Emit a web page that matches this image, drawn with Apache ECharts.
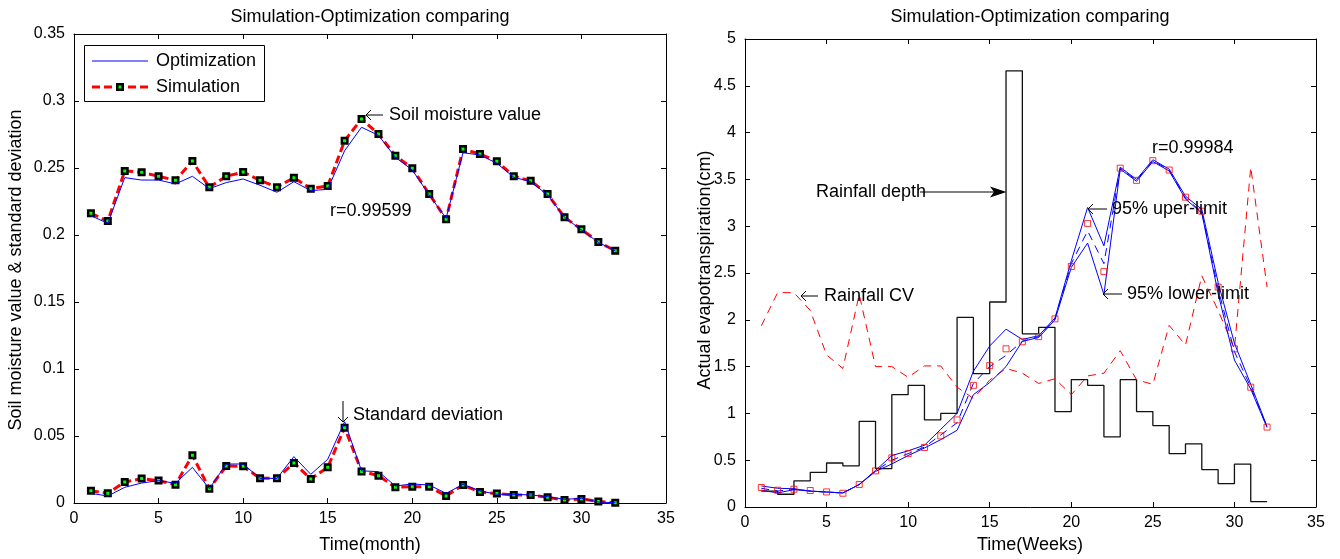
<!DOCTYPE html>
<html><head><meta charset="utf-8">
<script src="https://cdn.jsdelivr.net/npm/echarts/dist/echarts.min.js"></script>
<style>html,body{margin:0;padding:0;background:#fff}#c{width:1340px;height:559px}</style>
</head><body><div id="c"></div>
<script>
// ---------- data ----------
const months = [1,2,3,4,5,6,7,8,9,10,11,12,13,14,15,16,17,18,19,20,21,22,23,24,25,26,27,28,29,30,31,32];
const optMoisture = [0.2144,0.2087,0.2428,0.2410,0.2410,0.2381,0.2438,0.2346,0.2391,0.2418,0.2371,0.2319,0.2398,0.2331,0.2341,0.2629,0.2804,0.2744,0.2580,0.2485,0.2299,0.2125,0.2614,0.2597,0.2535,0.2431,0.2398,0.2299,0.2132,0.2038,0.1945,0.1883];
const simMoisture = [0.2162,0.2104,0.2478,0.2468,0.2438,0.2408,0.2552,0.2356,0.2438,0.2470,0.2408,0.2356,0.2428,0.2346,0.2366,0.2704,0.2866,0.2754,0.2592,0.2498,0.2306,0.2117,0.2642,0.2604,0.2550,0.2438,0.2405,0.2306,0.2132,0.2043,0.1948,0.1883];
const optStd = [0.0072,0.0052,0.0117,0.0149,0.0167,0.0147,0.0266,0.0107,0.0291,0.0291,0.0184,0.0184,0.0346,0.0214,0.0326,0.0607,0.0240,0.0234,0.0127,0.0142,0.0134,0.0072,0.0139,0.0090,0.0065,0.0065,0.0060,0.0047,0.0027,0.0035,0.0007,0.0002];
const simStd = [0.0092,0.0072,0.0157,0.0182,0.0167,0.0137,0.0356,0.0107,0.0276,0.0274,0.0184,0.0184,0.0299,0.0179,0.0266,0.0562,0.0236,0.0204,0.0117,0.0122,0.0122,0.0052,0.0134,0.0082,0.0070,0.0060,0.0060,0.0042,0.0022,0.0030,0.0012,0.0002];

const weeks = [1,2,3,4,5,6,7,8,9,10,11,12,13,14,15,16,17,18,19,20,21,22,23,24,25,26,27,28,29,30,31,32];
const rainfallDepth = [0.17,0.136,0.28,0.37,0.47,0.44,0.915,0.41,1.20,1.30,0.93,1.00,2.025,1.425,2.19,4.66,1.85,1.92,1.02,1.36,1.30,0.75,1.36,1.02,0.87,0.57,0.675,0.40,0.25,0.457,0.058,0.058];
const rainfallCV = [1.936,2.29,2.29,2.10,1.625,1.48,2.27,1.50,1.50,1.386,1.507,1.507,1.28,1.16,1.357,1.48,1.43,1.32,1.37,1.20,1.40,1.43,1.67,1.36,1.31,1.94,1.73,2.47,2.10,1.69,3.63,2.35];
const upperLimit = [0.225,0.20,0.195,0.17,0.16,0.15,0.24,0.39,0.55,0.60,0.66,0.83,1.00,1.45,1.72,1.90,1.79,1.83,2.02,2.63,3.20,2.79,3.63,3.50,3.71,3.61,3.32,3.18,2.40,1.75,1.31,0.86];
const lowerLimit = [0.18,0.15,0.185,0.17,0.16,0.15,0.24,0.38,0.46,0.55,0.63,0.72,0.82,1.20,1.33,1.50,1.77,1.81,2.00,2.56,2.82,2.27,3.61,3.48,3.69,3.59,3.29,3.14,2.28,1.57,1.26,0.85];
const optMean = [0.20,0.17,0.19,0.17,0.16,0.15,0.24,0.386,0.50,0.57,0.64,0.77,0.90,1.32,1.50,1.62,1.77,1.82,2.01,2.60,2.95,2.60,3.62,3.49,3.70,3.60,3.30,3.15,2.33,1.66,1.28,0.85];
const simET = [0.208,0.179,0.19,0.176,0.161,0.147,0.24,0.386,0.525,0.57,0.636,0.76,0.93,1.30,1.51,1.69,1.765,1.82,2.01,2.57,3.03,2.515,3.62,3.49,3.70,3.60,3.31,3.16,2.35,1.69,1.28,0.854];

const xTicksLeft = {min:0, max:35, interval:5};
const yTicksLeft = {min:0, max:0.35, interval:0.05};
const xTicksRight = {min:0, max:35, interval:5};
const yTicksRight = {min:0, max:5, interval:0.5};

// ---------- chart ----------
const FONT = 'Liberation Sans, Arial, Helvetica, sans-serif';
const FS = 16;     // tick labels
const FT = 18;     // titles, annotations
const pair = (xs, ys) => xs.map((x, i) => [x, ys[i]]);
const fmt = v => String(Math.round(v * 10000) / 10000);

function axisX(grid, pos, ticks, showLabel) {
  return {
    type:'value', gridIndex:grid, position:pos, min:ticks.min, max:ticks.max, interval:ticks.interval,
    axisLine:{show:true, onZero:false, lineStyle:{color:'#000', width:1}},
    axisTick:{show:true, inside:true, length:5, lineStyle:{color:'#000'}},
    axisLabel:{show:showLabel, color:'#000', fontSize:FS, fontFamily:FONT, margin:8, formatter:fmt},
    splitLine:{show:false}
  };
}
function axisY(grid, pos, ticks, showLabel) {
  return {
    type:'value', gridIndex:grid, position:pos, min:ticks.min, max:ticks.max, interval:ticks.interval,
    axisLine:{show:true, onZero:false, lineStyle:{color:'#000', width:1}},
    axisTick:{show:true, inside:true, length:5, lineStyle:{color:'#000'}},
    axisLabel:{show:showLabel, color:'#000', fontSize:FS, fontFamily:FONT, margin:9, formatter:fmt},
    splitLine:{show:false}
  };
}

const simSymbolStyle = {color:'#00ff00', borderColor:'#000', borderWidth:2.5};
const simLine = {color:'#ff0000', width:3, type:[8,4]};

function txt(x, y, text, align) {
  return {type:'text', x:x, y:y, silent:true, z:50, style:{
    text:text, fill:'#000', fontSize:FT, fontFamily:FONT,
    align:align || 'left', verticalAlign:'middle'}};
}
function leftArrow(x1, x2, y) { // head at x1
  return [
    {type:'line', silent:true, z:50, shape:{x1:x1, y1:y, x2:x2, y2:y}, style:{stroke:'#000', lineWidth:1}},
    {type:'polyline', silent:true, z:50, shape:{points:[[x1+5,y-5],[x1,y],[x1+5,y+5]]}, style:{stroke:'#000', lineWidth:1, fill:null}}
  ];
}
function downArrow(x, y1, y2) { // head at y2
  return [
    {type:'line', silent:true, z:50, shape:{x1:x, y1:y1, x2:x, y2:y2}, style:{stroke:'#000', lineWidth:1}},
    {type:'polyline', silent:true, z:50, shape:{points:[[x-5,y2-5],[x,y2],[x+5,y2-5]]}, style:{stroke:'#000', lineWidth:1, fill:null}}
  ];
}

const legendGraphic = [
  {type:'rect', silent:true, z:40, shape:{x:84.5, y:45.5, width:180, height:56}, style:{fill:'#fff', stroke:'#000', lineWidth:1}},
  {type:'line', silent:true, z:41, shape:{x1:92, y1:61, x2:148, y2:61}, style:{stroke:'#0000ff', lineWidth:1}},
  txt(156,61,'Optimization'),
  {type:'line', silent:true, z:41, shape:{x1:92, y1:87, x2:148, y2:87}, style:{stroke:'#ff0000', lineWidth:3, lineDash:[8,4]}},
  {type:'rect', silent:true, z:42, shape:{x:117.25, y:84.25, width:5.5, height:5.5}, style:{fill:'#00ff00', stroke:'#000', lineWidth:2.5}},
  txt(156,87,'Simulation')
];

const option = {
  animation:false,
  backgroundColor:'#fff',
  grid:[
    {left:74, top:34, width:592, height:469},
    {left:745, top:39, width:571, height:468}
  ],
  xAxis:[
    axisX(0,'bottom',xTicksLeft,true), axisX(0,'top',xTicksLeft,false),
    axisX(1,'bottom',xTicksRight,true), axisX(1,'top',xTicksRight,false)
  ],
  yAxis:[
    axisY(0,'left',yTicksLeft,true), axisY(0,'right',yTicksLeft,false),
    axisY(1,'left',yTicksRight,true), axisY(1,'right',yTicksRight,false)
  ],
  series:[
    {name:'Optimization', type:'line', xAxisIndex:0, yAxisIndex:0, data:pair(months,optMoisture),
     symbol:'none', lineStyle:{color:'#0000ff', width:1}, z:3},
    {name:'Simulation', type:'line', xAxisIndex:0, yAxisIndex:0, data:pair(months,simMoisture),
     symbol:'rect', symbolSize:5.5, lineStyle:simLine, itemStyle:simSymbolStyle, z:2},
    {name:'Optimization SD', type:'line', xAxisIndex:0, yAxisIndex:0, data:pair(months,optStd),
     symbol:'none', lineStyle:{color:'#0000ff', width:1}, z:3},
    {name:'Simulation SD', type:'line', xAxisIndex:0, yAxisIndex:0, data:pair(months,simStd),
     symbol:'rect', symbolSize:5.5, lineStyle:simLine, itemStyle:simSymbolStyle, z:2},

    {name:'Rainfall depth', type:'line', step:'end', xAxisIndex:2, yAxisIndex:2, data:pair(weeks,rainfallDepth),
     symbol:'none', lineStyle:{color:'#111', width:1.3}},
    {name:'Rainfall CV', type:'line', xAxisIndex:2, yAxisIndex:2, data:pair(weeks,rainfallCV),
     symbol:'none', lineStyle:{color:'#ff0000', width:1, type:[8,6]}},
    {name:'95% upper', type:'line', xAxisIndex:2, yAxisIndex:2, data:pair(weeks,upperLimit),
     symbol:'none', lineStyle:{color:'#0000ff', width:1}},
    {name:'95% lower', type:'line', xAxisIndex:2, yAxisIndex:2, data:pair(weeks,lowerLimit),
     symbol:'none', lineStyle:{color:'#0000ff', width:1}},
    {name:'Opt mean', type:'line', xAxisIndex:2, yAxisIndex:2, data:pair(weeks,optMean),
     symbol:'none', lineStyle:{color:'#0000ff', width:1, type:[8,6]}},
    {name:'Sim ET', type:'scatter', xAxisIndex:2, yAxisIndex:2, data:pair(weeks,simET),
     symbol:'rect', symbolSize:6, itemStyle:{color:'rgba(0,0,0,0)', borderColor:'#ff0000', borderWidth:1}, z:5}
  ],
  graphic:[].concat(
    [
      txt(370,17,'Simulation-Optimization comparing','center'),
      txt(1030,17,'Simulation-Optimization comparing','center'),
      txt(370,545,'Time(month)','center'),
      txt(1030,545,'Time(Weeks)','center'),
      {type:'text', x:16, y:270, rotation:Math.PI/2, silent:true,
       style:{text:'Soil moisture value & standard deviation', fill:'#000', fontSize:FT, fontFamily:FONT, align:'center', verticalAlign:'middle'}},
      {type:'text', x:705, y:270, rotation:Math.PI/2, silent:true,
       style:{text:'Actual evapotranspiration(cm)', fill:'#000', fontSize:FT, fontFamily:FONT, align:'center', verticalAlign:'middle'}},
      txt(389,115,'Soil moisture value'),
      txt(330,211,'r=0.99599'),
      txt(353,415,'Standard deviation'),
      txt(816,192,'Rainfall depth'),
      {type:'line', silent:true, shape:{x1:920,y1:192,x2:996,y2:192}, style:{stroke:'#000', lineWidth:1}},
      {type:'polygon', silent:true, shape:{points:[[1006.5,192],[990,186.5],[994,192],[990,197.5]]}, style:{fill:'#000'}},
      txt(824,296,'Rainfall CV'),
      txt(1152,148,'r=0.99984'),
      txt(1112,209,'95% uper-limit'),
      txt(1127,294,'95% lower-limit')
    ],
    leftArrow(366,383,115),
    downArrow(343,401,422),
    leftArrow(801,818,296),
    leftArrow(1088,1107,209),
    leftArrow(1103,1122,294),
    legendGraphic
  )
};

const chart = echarts.init(document.getElementById('c'), null, {renderer:'canvas'});
chart.setOption(option);
</script>
</body></html>
